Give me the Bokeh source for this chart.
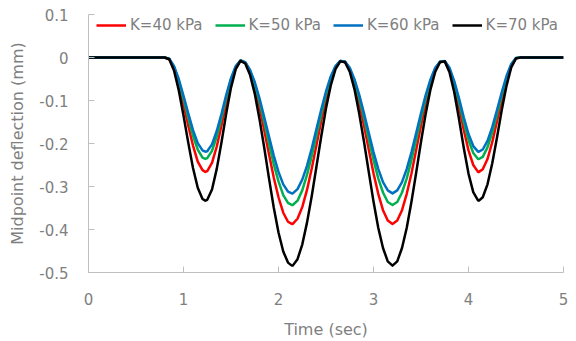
from bokeh.plotting import figure
from bokeh.models import Range1d, FixedTicker, Legend, LegendItem
from bokeh.embed import file_html
from bokeh.resources import INLINE

# ---- data ----
time_s = [0.0, 0.5, 0.8, 0.85, 0.9, 0.95, 1.0, 1.05, 1.1, 1.15, 1.2, 1.23, 1.25, 1.3, 1.35, 1.4,
          1.45, 1.5, 1.55, 1.6, 1.65, 1.7, 1.75, 1.8, 1.85, 1.9, 1.95, 2.0, 2.05, 2.1, 2.14, 2.15,
          2.2, 2.25, 2.3, 2.35, 2.4, 2.45, 2.5, 2.55, 2.6, 2.65, 2.7, 2.75, 2.8, 2.85, 2.9,
          2.95, 3.0, 3.05, 3.1, 3.15, 3.2, 3.25, 3.3, 3.35, 3.4, 3.45, 3.5, 3.55, 3.6, 3.65,
          3.7, 3.75, 3.8, 3.85, 3.9, 3.95, 4.0, 4.05, 4.1, 4.11, 4.15, 4.2, 4.25, 4.3, 4.35, 4.4,
          4.45, 4.5, 4.55, 5.0]

k40 = [0, 0, 0,
       -0.004, -0.024, -0.061, -0.108, -0.158, -0.205, -0.242, -0.262, -0.266,
       -0.264, -0.245, -0.207, -0.158, -0.105, -0.057, -0.023, -0.007,
       -0.012, -0.033, -0.069, -0.115, -0.169, -0.225, -0.279, -0.325, -0.361, -0.382, -0.387,
       -0.387, -0.375, -0.348, -0.308, -0.258, -0.203, -0.147, -0.096, -0.053, -0.023, -0.008,
       -0.010, -0.028, -0.061, -0.105, -0.158, -0.214, -0.269, -0.317, -0.355, -0.379, -0.387,
       -0.379, -0.355, -0.317, -0.269, -0.214, -0.158, -0.105, -0.061, -0.028, -0.010,
       -0.009, -0.028, -0.066, -0.115, -0.168, -0.216, -0.250, -0.266, -0.266,
       -0.260, -0.236, -0.197, -0.148, -0.098, -0.052, -0.019, -0.002,
       0, 0]

k50 = [0, 0, 0,
       -0.003, -0.021, -0.054, -0.096, -0.140, -0.182, -0.214, -0.233, -0.236,
       -0.234, -0.217, -0.184, -0.140, -0.093, -0.051, -0.021, -0.007,
       -0.012, -0.030, -0.062, -0.102, -0.150, -0.200, -0.248, -0.288, -0.320, -0.338, -0.343,
       -0.343, -0.333, -0.309, -0.273, -0.229, -0.180, -0.131, -0.085, -0.048, -0.021, -0.008,
       -0.010, -0.026, -0.054, -0.094, -0.140, -0.190, -0.238, -0.281, -0.314, -0.336, -0.343,
       -0.336, -0.314, -0.281, -0.238, -0.190, -0.140, -0.094, -0.054, -0.026, -0.010,
       -0.009, -0.026, -0.059, -0.103, -0.150, -0.192, -0.222, -0.236, -0.236,
       -0.231, -0.209, -0.174, -0.132, -0.087, -0.047, -0.017, -0.001,
       0, 0]

k60 = [0, 0, 0,
       -0.003, -0.020, -0.050, -0.089, -0.130, -0.169, -0.199, -0.216, -0.219,
       -0.218, -0.202, -0.171, -0.131, -0.087, -0.048, -0.020, -0.007,
       -0.011, -0.029, -0.057, -0.095, -0.139, -0.184, -0.228, -0.266, -0.295, -0.312, -0.316,
       -0.316, -0.306, -0.284, -0.252, -0.211, -0.166, -0.121, -0.079, -0.044, -0.020, -0.008,
       -0.009, -0.024, -0.051, -0.087, -0.130, -0.175, -0.220, -0.259, -0.290, -0.309, -0.316,
       -0.309, -0.290, -0.259, -0.220, -0.175, -0.130, -0.087, -0.051, -0.024, -0.010,
       -0.008, -0.024, -0.055, -0.095, -0.139, -0.178, -0.206, -0.219, -0.219,
       -0.214, -0.194, -0.162, -0.122, -0.081, -0.043, -0.015, -0.001,
       0, 0]

k70 = [0, 0, 0,
       -0.004, -0.030, -0.076, -0.135, -0.198, -0.257, -0.303, -0.329, -0.333,
       -0.331, -0.307, -0.259, -0.197, -0.130, -0.070, -0.027, -0.008,
       -0.014, -0.040, -0.084, -0.143, -0.210, -0.281, -0.349, -0.407, -0.451, -0.477, -0.484,
       -0.484, -0.469, -0.435, -0.384, -0.322, -0.253, -0.183, -0.118, -0.065, -0.027, -0.009,
       -0.011, -0.033, -0.074, -0.131, -0.196, -0.266, -0.335, -0.396, -0.443, -0.474, -0.484,
       -0.474, -0.443, -0.396, -0.335, -0.267, -0.196, -0.130, -0.074, -0.033, -0.011,
       -0.009, -0.034, -0.081, -0.143, -0.210, -0.270, -0.313, -0.332, -0.333,
       -0.325, -0.295, -0.246, -0.186, -0.122, -0.066, -0.023, -0.002,
       0, 0]

series_names = ["K=40 kPa", "K=50 kPa", "K=60 kPa", "K=70 kPa"]
series_values = [k40, k50, k60, k70]
series_colors = ["#ff0000", "#00b050", "#0070c0", "#000000"]

x_ticks = [0, 1, 2, 3, 4, 5]
x_labels = ["0", "1", "2", "3", "4", "5"]
y_ticks = [-0.5, -0.4, -0.3, -0.2, -0.1, 0.0, 0.1]
y_labels = ["-0.5", "-0.4", "-0.3", "-0.2", "-0.1", "0", "0.1"]

FONT = "DejaVu Sans"
TXT = "#7f7f7f"
AX = "#bfbfbf"

p = figure(width=576, height=341, output_backend="svg", toolbar_location=None,
           x_range=Range1d(0, 5), y_range=Range1d(-0.5, 0.1),
           min_border_left=88, min_border_right=13, min_border_top=14, min_border_bottom=68)
p.outline_line_color = None
p.xgrid.visible = False
p.ygrid.visible = False
p.background_fill_color = "white"

items = []
for name, vals, col in zip(series_names, series_values, series_colors):
    r = p.line(time_s, vals, line_color=col, line_width=2.5, line_join="round")
    items.append(LegendItem(label=name, renderers=[r]))

for ax, ticks, labels in ((p.xaxis[0], x_ticks, x_labels), (p.yaxis[0], y_ticks, y_labels)):
    ax.ticker = FixedTicker(ticks=ticks)
    ax.major_label_overrides = {t: l for t, l in zip(ticks, labels)}
    ax.minor_tick_line_color = None
    ax.major_tick_in = 6
    ax.major_tick_out = 0
    ax.major_tick_line_color = AX
    ax.axis_line_color = AX
    ax.major_label_text_font = FONT
    ax.major_label_text_font_size = "15px"
    ax.major_label_text_color = TXT
    ax.axis_label_text_font = FONT
    ax.axis_label_text_font_size = "16px"
    ax.axis_label_text_font_style = "normal"
    ax.axis_label_text_color = TXT

p.xaxis.axis_label = "Time (sec)"
p.yaxis.axis_label = "Midpoint deflection (mm)"
p.xaxis.major_label_standoff = 20
p.yaxis.major_label_standoff = 20
p.xaxis.axis_label_standoff = 12
p.yaxis.axis_label_standoff = 9

legend = Legend(items=items, orientation="horizontal", location=(8, 237),
                glyph_width=30, glyph_height=20, label_height=20, label_standoff=4,
                spacing=12, padding=0, margin=0,
                label_text_font=FONT, label_text_font_size="15px", label_text_color=TXT,
                background_fill_alpha=0, border_line_color=None)
p.add_layout(legend, "center")

open("out.html", "w").write(file_html(p, INLINE))
